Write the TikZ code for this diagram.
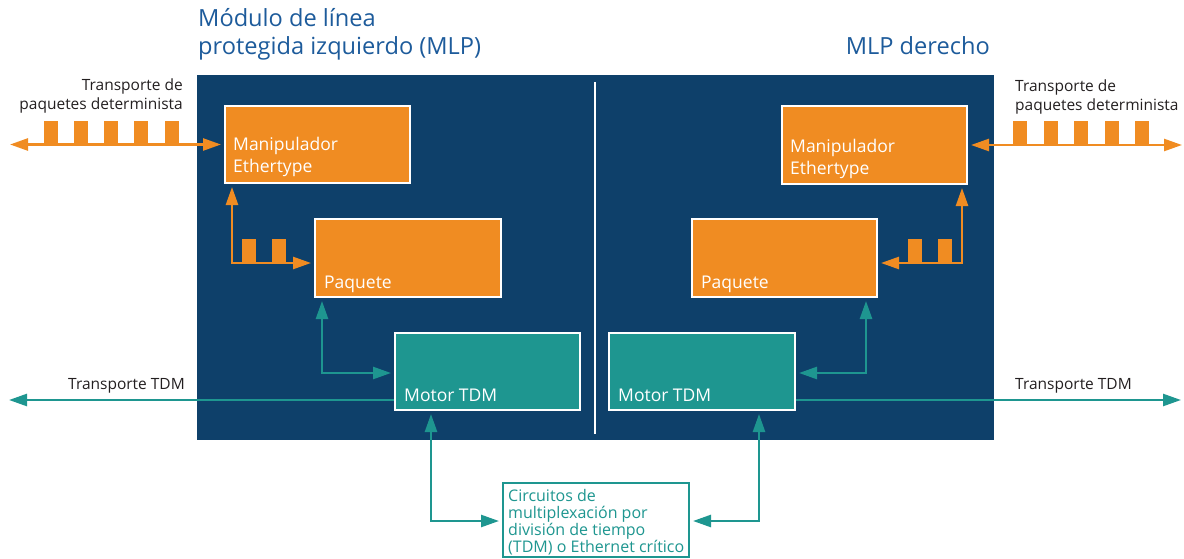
\documentclass[tikz,border=0pt]{standalone}
\usepackage{fontspec}
\setmainfont{Open Sans}
\usetikzlibrary{arrows.meta}
\definecolor{panel}{HTML}{0E406A}
\definecolor{ora}{HTML}{F08C22}
\definecolor{tea}{HTML}{1E9690}
\definecolor{ttl}{HTML}{1D5B9B}
\definecolor{lbl}{HTML}{231F20}
\tikzset{
  tip/.tip={Triangle[length=18pt,width=12pt]},
  obox/.style={draw=white, line width=2pt, fill=ora, inner sep=0pt},
  tbox/.style={draw=white, line width=2pt, fill=tea, inner sep=0pt},
  btxt/.style={text=white, inner sep=0pt, font=\fontsize{17.5}{22}\selectfont, align=left},
  olink/.style={draw=ora, line width=2.5pt, {tip}-{tip}, shorten <=3pt, shorten >=3pt},
  tlink/.style={draw=tea, line width=2.5pt, {tip}-{tip}, shorten <=3pt, shorten >=3pt},
  pulse/.style={fill=ora},
  side/.style={text=lbl, inner sep=0pt, font=\fontsize{15.5}{19}\selectfont},
  ttlt/.style={text=ttl, inner sep=0pt, font=\fontsize{23.6}{28}\selectfont},
}
\begin{document}
\begin{tikzpicture}[x=1pt, y=-1pt]
\useasboundingbox (0,0) rectangle (1184,559);
% module panel and separator
\fill[panel] (197,75) rectangle (994,440);
\draw[white, line width=2pt] (595,82) -- (595,434);

% titles
\node[ttlt, anchor=base west] (t1) at (198,27) {Módulo de línea};
\node[ttlt, anchor=base west] (t2) at (198,55) {protegida izquierdo (MLP)};
\node[ttlt, anchor=base east] (t3) at (990,55) {MLP derecho};

% blocks
\node[obox, minimum width=185pt, minimum height=77pt] (mlL) at (317.5,144.5) {};
\node[obox, minimum width=185pt, minimum height=78pt] (mlR) at (874.5,145) {};
\node[obox, minimum width=186pt, minimum height=78pt] (pqL) at (408,258) {};
\node[obox, minimum width=185pt, minimum height=78pt] (pqR) at (784.5,258) {};
\node[tbox, minimum width=185pt, minimum height=77pt] (mtL) at (487.5,371.5) {};
\node[tbox, minimum width=186pt, minimum height=77pt] (mtR) at (702,371.5) {};
\node[draw=tea, line width=2pt, fill=white, inner sep=0pt, minimum width=186pt, minimum height=74pt] (crit) at (596,520) {};

% block texts
\node[btxt, anchor=south west] (mlLt) at (233,177) {Manipulador\\Ethertype};
\node[btxt, anchor=south west] (mlRt) at (790,179) {Manipulador\\Ethertype};
\node[btxt, anchor=base west] (pqLt) at (324,288) {Paquete};
\node[btxt, anchor=base west] (pqRt) at (701,288) {Paquete};
\node[btxt, anchor=base west] (mtLt) at (404,401) {Motor TDM};
\node[btxt, anchor=base west] (mtRt) at (618,401) {Motor TDM};
\node[text=tea, inner sep=0pt, anchor=base west, align=left, font=\fontsize{16}{17}\selectfont] (critt) at (508,552)
  {Circuitos de\\multiplexación por\\división de tiempo\\(TDM) o Ethernet crítico};

% side labels
\node[side, anchor=base east, align=right] (pdL) at (183,110) {Transporte de\\paquetes determinista};
\node[side, anchor=base west, align=left] (pdR) at (1015,111) {Transporte de\\paquetes determinista};
\node[side, anchor=base east] (tdL) at (185,389) {Transporte TDM};
\node[side, anchor=base west] (tdR) at (1015,389) {Transporte TDM};

% deterministic packet streams
\foreach \x in {44,74,104,134,165} \fill[pulse] (\x,121) rectangle ++(14,24);
\foreach \x in {1013,1044,1074,1105,1135} \fill[pulse] (\x,121) rectangle ++(14,24);
\foreach \x in {242,272} \fill[pulse] (\x,239) rectangle ++(14,24);
\foreach \x in {908,938} \fill[pulse] (\x,239) rectangle ++(14,24);

\coordinate (pl) at (10,144.5);
\coordinate (pr) at (1182,145);
\draw[olink, shorten <=0pt] (pl) -- (mlL.west);
\draw[olink, shorten >=0pt] (mlR.east) -- (pr);

\coordinate (cL) at (232,263);
\coordinate (cR) at (962,263);
\draw[olink] (mlL.south -| cL) -- (cL) -- (pqL.west |- cL);
\draw[olink] (mlR.south -| cR) -- (cR) -- (pqR.east |- cR);

% TDM links
\coordinate (tL) at (322,373);
\coordinate (tR) at (866,373);
\draw[tlink] (pqL.south -| tL) -- (tL) -- (mtL.west |- tL);
\draw[tlink] (pqR.south -| tR) -- (tR) -- (mtR.east |- tR);

\coordinate (dL) at (9,400);
\coordinate (dR) at (1181,400);
\draw[draw=tea, line width=2.5pt, -{tip}] (mtL.west |- dL) -- (dL);
\draw[draw=tea, line width=2.5pt, -{tip}] (mtR.east |- dR) -- (dR);

\coordinate (bL) at (431,521);
\coordinate (bR) at (759,521);
\draw[tlink] (mtL.south -| bL) -- (bL) -- (crit.west |- bL);
\draw[tlink] (mtR.south -| bR) -- (bR) -- (crit.east |- bR);
\end{tikzpicture}
\end{document}
